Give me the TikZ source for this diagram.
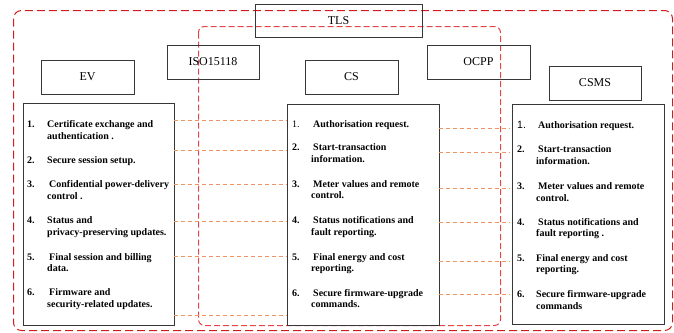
\documentclass[tikz,border=0pt]{standalone}
\usepackage{fontspec}
\setmainfont{Liberation Serif}
\newfontfamily\numsans{Liberation Sans}
\definecolor{zoneA}{RGB}{208,28,28}
\definecolor{zoneB}{RGB}{226,70,70}
\definecolor{connC}{RGB}{240,148,100}
\definecolor{boxC}{RGB}{55,55,55}
\tikzset{
  hdr/.style={draw=boxC, line width=0.8pt, inner sep=0pt, font=\rmfamily\fontsize{12}{14}\selectfont},
  lst/.style={draw=boxC, line width=0.8pt, inner sep=0pt},
  itm/.style={anchor=base west, inner sep=0pt, font=\rmfamily\fontsize{10}{12}\selectfont\bfseries},
  nrm/.style={anchor=base west, inner sep=0pt, font=\rmfamily\fontsize{10}{12}\selectfont},
  outerzone/.style={draw=zoneA, dash pattern=on 8pt off 4pt, line width=1pt, rounded corners=8pt},
  innerzone/.style={draw=zoneB, dash pattern=on 6pt off 3pt, line width=1pt, rounded corners=6pt},
  conn/.style={draw=connC, dash pattern=on 4pt off 3pt, line width=1pt}
}
\begin{document}
\begin{tikzpicture}[x=1pt,y=-1pt]
\useasboundingbox (0,0) rectangle (674,332);
% zones
\draw[outerzone] (13.5,10.5) rectangle (672.5,330.5);
\draw[innerzone] (198.5,26.5) rectangle (500.5,325.5);
% header boxes
\node[hdr, minimum width=167pt, minimum height=33pt] (tls) at (338.5,20.5) {TLS};
\node[hdr, minimum width=92pt, minimum height=34pt] (iso) at (213,62) {ISO15118};
\node[hdr, minimum width=93pt, minimum height=34pt] (ev) at (87.5,77) {EV};
\node[hdr, minimum width=93pt, minimum height=34pt] (cs) at (351.5,77) {CS};
\node[hdr, minimum width=103pt, minimum height=34pt] (ocpp) at (478.5,62) {OCPP};
\node[hdr, minimum width=92pt, minimum height=34pt] (csms) at (595,83) {CSMS};
% list boxes
\node[lst, minimum width=151pt, minimum height=222pt] (evlist) at (98.5,214) {};
\node[lst, minimum width=152pt, minimum height=221pt] (cslist) at (363,214.5) {};
\node[lst, minimum width=152pt, minimum height=220pt] (csmslist) at (588,214) {};
% connectors EV - CS
\foreach \yy in {120.5,150.5,184.5,221.5,256.5,315.5}
  \draw[conn] (evlist.east |- 0,\yy) -- (cslist.west |- 0,\yy);
% connectors CS - CSMS
\foreach \yy in {128.5,152.5,188.5,222.5,261.5,294.5}
  \draw[conn] (cslist.east |- 0,\yy) -- ([xshift=-2pt]csmslist.west |- 0,\yy);
% EV items
\node[itm] (evn1) at (27,127.5) {1.};
\node[itm] (ev1a) at (47,127.5) {Certificate exchange and};
\node[itm] (ev1b) at (47,139.5) {authentication .};
\node[itm] (evn2) at (27,163.5) {2.};
\node[itm] (ev2a) at (47,163.5) {Secure session setup.};
\node[itm] (evn3) at (27,187.5) {3.};
\node[itm] (ev3a) at (49,187.5) {Confidential power-delivery};
\node[itm] (ev3b) at (47,199.5) {control .};
\node[itm] (evn4) at (27,223.5) {4.};
\node[itm] (ev4a) at (47,223.5) {Status and};
\node[itm] (ev4b) at (47,235.5) {privacy-preserving updates.};
\node[itm] (evn5) at (27,260.5) {5.};
\node[itm] (ev5a) at (49,260.5) {Final session and billing};
\node[itm] (ev5b) at (47,271.5) {data.};
\node[itm] (evn6) at (27,295.5) {6.};
\node[itm] (ev6a) at (49,295.5) {Firmware and};
\node[itm] (ev6b) at (47,307.5) {security-related updates.};
% CS items
\node[nrm] (csn1) at (292,127.5) {1.};
\node[itm] (cs1a) at (313,127.5) {Authorisation request.};
\node[itm] (csn2) at (292,150.5) {2.};
\node[itm] (cs2a) at (313,150.5) {Start-transaction};
\node[itm] (cs2b) at (311,162.5) {information.};
\node[itm] (csn3) at (292,187.5) {3.};
\node[itm] (cs3a) at (313,187.5) {Meter values and remote};
\node[itm] (cs3b) at (311,198.5) {control.};
\node[itm] (csn4) at (292,223.5) {4.};
\node[itm] (cs4a) at (313,223.5) {Status notifications and};
\node[itm] (cs4b) at (311,235.5) {fault reporting.};
\node[itm] (csn5) at (292,260.5) {5.};
\node[itm] (cs5a) at (313,260.5) {Final energy and cost};
\node[itm] (cs5b) at (311,271.5) {reporting.};
\node[itm] (csn6) at (292,296.5) {6.};
\node[itm] (cs6a) at (313,296.5) {Secure firmware-upgrade};
\node[itm] (cs6b) at (311,307.5) {commands.};
% CSMS items
\node[nrm, font=\fontsize{10.5}{12}\selectfont\numsans] (msn1) at (517,128.5) {1.};
\node[itm] (ms1a) at (538,128.5) {Authorisation request.};
\node[itm] (msn2) at (517,152.5) {2.};
\node[itm] (ms2a) at (538,152.5) {Start-transaction};
\node[itm] (ms2b) at (536,164.5) {information.};
\node[itm] (msn3) at (517,189.5) {3.};
\node[itm] (ms3a) at (538,189.5) {Meter values and remote};
\node[itm] (ms3b) at (536,201.5) {control.};
\node[itm] (msn4) at (517,225.5) {4.};
\node[itm] (ms4a) at (538,225.5) {Status notifications and};
\node[itm] (ms4b) at (536,236.5) {fault reporting .};
\node[itm] (msn5) at (517,261.5) {5.};
\node[itm] (ms5a) at (536,261.5) {Final energy and cost};
\node[itm] (ms5b) at (536,272.5) {reporting.};
\node[itm] (msn6) at (517,297.5) {6.};
\node[itm] (ms6a) at (536,297.5) {Secure firmware-upgrade};
\node[itm] (ms6b) at (536,309.5) {commands};
\end{tikzpicture}
\end{document}
